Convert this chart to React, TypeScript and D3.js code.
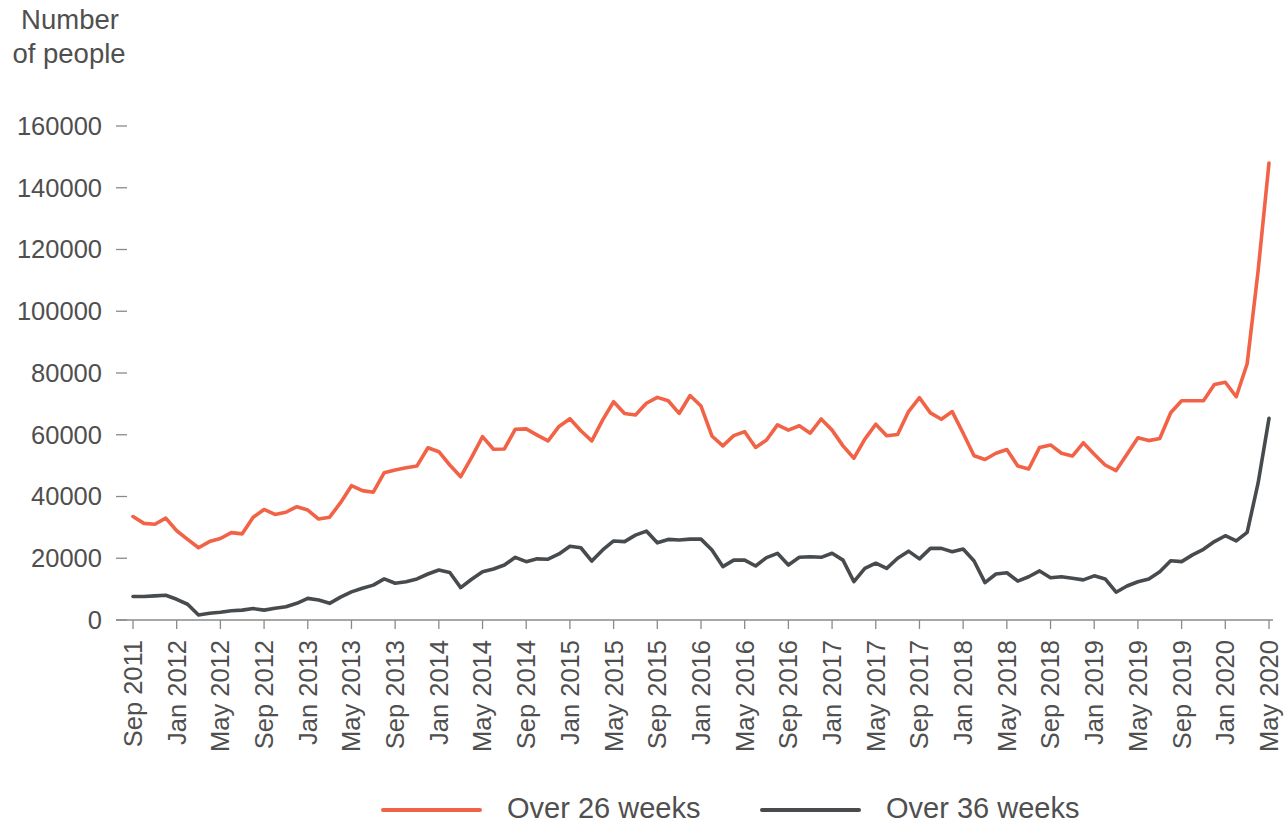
import React, { useEffect, useRef } from 'react';
import * as d3 from 'd3';

// months Sep 2011 .. May 2020
const months: Date[] = d3.timeMonth.range(new Date(2011, 8, 1), new Date(2020, 5, 1));

const over26 = [
  33500, 31300, 31000, 33000,
  28900, 26100, 23400, 25400, 26400, 28300, 27900, 33300, 35800, 34200, 34900, 36700,
  35600, 32700, 33300, 38000, 43500, 41900, 41400, 47700, 48600, 49300, 49900, 55800,
  54500, 50200, 46400, 52700, 59400, 55300, 55400, 61800, 61900, 59900, 58000, 62700,
  65200, 61300, 58000, 64800, 70700, 66900, 66400, 70200, 72100, 71000, 66900, 72700,
  69300, 59600, 56400, 59700, 61000, 55900, 58300, 63200, 61500, 62900, 60500, 65100,
  61500, 56400, 52400, 58600, 63400, 59700, 60100, 67500, 72000, 67100, 65000, 67500,
  60500, 53200, 52000, 54000, 55200, 49900, 48900, 55900, 56700, 54000, 53100, 57400,
  53700, 50200, 48400, 53700, 59000, 58100, 58800, 67100, 71000, 71000, 71000, 76300,
  77000, 72300, 83000, 113000, 148000,
];

const over36 = [
  7600, 7600, 7800, 8000,
  6700, 5100, 1600, 2200, 2500, 3000, 3200, 3700, 3200, 3800, 4300, 5400,
  7000, 6500, 5400, 7400, 9100, 10300, 11300, 13300, 11900, 12400, 13300, 14900,
  16200, 15400, 10500, 13200, 15600, 16500, 17800, 20300, 18900, 19800, 19700, 21400,
  23900, 23400, 19100, 22700, 25600, 25400, 27500, 28800, 25000, 26100, 25900, 26200,
  26200, 22700, 17300, 19400, 19400, 17500, 20200, 21600, 17800, 20300, 20500, 20300,
  21600, 19400, 12400, 16700, 18400, 16700, 20000, 22300, 19800, 23200, 23200, 22100,
  23000, 19100, 12100, 14900, 15300, 12600, 14000, 15900, 13700, 14000, 13500, 13000,
  14300, 13300, 9000, 11000, 12400, 13300, 15600, 19200, 18900, 21100, 22900, 25400,
  27300, 25600, 28400, 44300, 65300,
];

const yTicks = [0, 20000, 40000, 60000, 80000, 100000, 120000, 140000, 160000];
const seriesNames = ['Over 26 weeks', 'Over 36 weeks'];
const seriesColors = ['#f26247', '#484b4e'];

const W = 1285;
const H = 822;
const TEXT = '#4f4f4f';
const REG = '"Liberation Sans", Arial, sans-serif';
const NARROW = '"Liberation Sans Narrow", "Arial Narrow", "Liberation Sans", Arial, sans-serif';

const App: React.FC = () => {
  const svgRef = useRef<SVGSVGElement>(null);

  useEffect(() => {
    if (!svgRef.current) return;
    const svg = d3.select(svgRef.current);
    svg.selectAll('*').remove();

    const x = d3.scalePoint<Date>().domain(months).range([133, 1269]);
    const y = d3.scaleLinear().domain([0, 160000]).range([620, 126]);

    // title
    const title = svg.append('text')
      .attr('font-family', REG).attr('font-size', 27.5).attr('fill', TEXT)
      .attr('text-anchor', 'middle');
    title.append('tspan').attr('x', 70).attr('y', 29).text('Number');
    title.append('tspan').attr('x', 69).attr('y', 63).text('of people');

    // y axis
    const yAxis = svg.append('g');
    yAxis.selectAll('line').data(yTicks).enter().append('line')
      .attr('x1', 116).attr('x2', 127)
      .attr('y1', d => y(d)).attr('y2', d => y(d))
      .attr('stroke', '#8a8a8a').attr('stroke-width', 1.3);
    yAxis.selectAll('text').data(yTicks).enter().append('text')
      .attr('x', 102).attr('y', d => y(d)).attr('dy', '0.35em')
      .attr('text-anchor', 'end')
      .attr('font-family', REG).attr('font-size', 25.5).attr('fill', TEXT)
      .text(d => String(d));

    // x axis
    const xAxis = svg.append('g');
    xAxis.append('line')
      .attr('x1', 116).attr('x2', 1273).attr('y1', 620).attr('y2', 620)
      .attr('stroke', '#8a8a8a').attr('stroke-width', 1.5);
    const tickMonths = months.filter((_, i) => i % 4 === 0);
    const fmt = d3.timeFormat('%b %Y');
    xAxis.selectAll('line.tick').data(tickMonths).enter().append('line')
      .attr('class', 'tick')
      .attr('x1', d => x(d)!).attr('x2', d => x(d)!)
      .attr('y1', 620).attr('y2', 629)
      .attr('stroke', '#8a8a8a').attr('stroke-width', 1.3);
    xAxis.selectAll('text').data(tickMonths).enter().append('text')
      .attr('transform', d => `translate(${x(d)},640) rotate(-90)`)
      .attr('dy', '0.35em')
      .attr('text-anchor', 'end')
      .attr('font-family', NARROW).attr('font-size', 25.5).attr('fill', TEXT)
      .text(d => fmt(d));

    // lines
    const line = d3.line<number>()
      .x((_, i) => x(months[i])!)
      .y(d => y(d));
    [over26, over36].forEach((s, k) => {
      svg.append('path')
        .datum(s)
        .attr('d', line)
        .attr('fill', 'none')
        .attr('stroke', seriesColors[k])
        .attr('stroke-width', 3.6)
        .attr('stroke-linejoin', 'round')
        .attr('stroke-linecap', 'round');
    });

    // legend
    const legendX = [383, 762];
    seriesNames.forEach((name, k) => {
      const g = svg.append('g').attr('transform', `translate(${legendX[k]},810)`);
      g.append('line').attr('x1', 0).attr('x2', 97).attr('y1', 0).attr('y2', 0)
        .attr('stroke', seriesColors[k]).attr('stroke-width', 4).attr('stroke-linecap', 'round');
      g.append('text').attr('x', 124).attr('y', 7.5)
        .attr('font-family', REG).attr('font-size', 29).attr('fill', TEXT)
        .text(name);
    });
  }, []);

  return (
    <svg
      ref={svgRef}
      width={W}
      height={H}
      style={{ position: 'absolute', left: 0, top: 0, background: '#fff' }}
    />
  );
};

export default App;
